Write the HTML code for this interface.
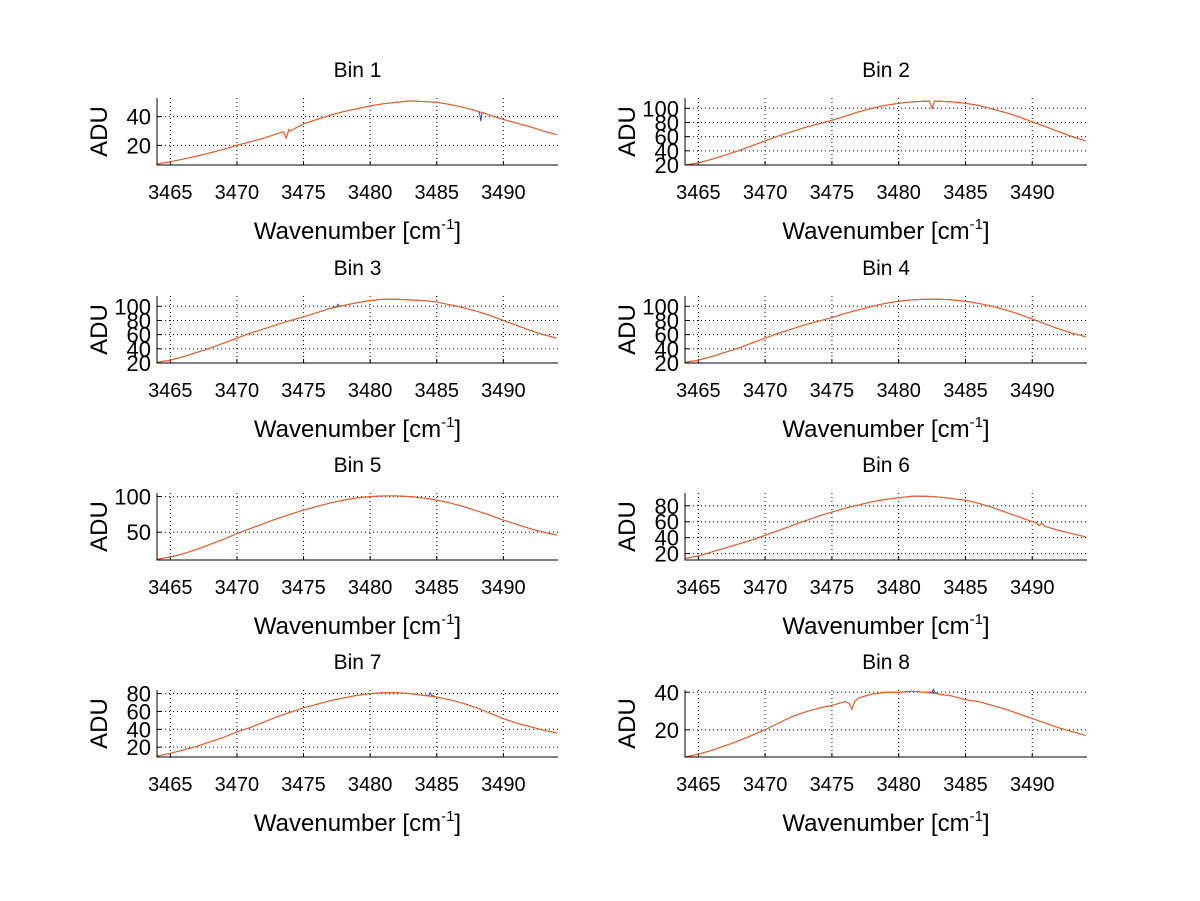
<!DOCTYPE html>
<html><head><meta charset="utf-8"><style>
html,body{margin:0;padding:0;background:#fff;}
svg{display:block;font-family:"Liberation Sans",sans-serif;}
</style></head><body>
<svg id="fig" width="1200" height="901" viewBox="0 0 1200 901"></svg>
<script>
const wavenumbers=[3464,3465,3466,3467,3468,3469,3470,3471,3472,3473,3474,3475,3476,3477,3478,3479,3480,3481,3482,3483,3484,3485,3486,3487,3488,3489,3490,3491,3492,3493,3494];
const xTicks=[3465,3470,3475,3480,3485,3490];
const bin1=[7,8.5,10.5,12.5,14.8,17.2,20,22.5,25,28,30,35,38,41,43.5,45.5,47.5,49,50,51,50.5,50,48.5,46.5,44,41,38,35.5,33,30,27.5];
const bin2=[20,23,28,34,40,47,54,61,67,73,78,83,89,95,100,104,107,109,110,110,109,107,104,99,94,88,81,74,67,60,54];
const bin3=[21,24,29,35,41,48,55,62,68,74,80,85,91,97,101,105,108,110,110,109,108,106,102,98,93,87,80,73,66,60,55];
const bin4=[21,24,29,35,41,48,55,62,68,74,79,84,90,95,100,104,107,109,110,110,109,107,104,100,95,89,82,75,68,62,57];
const bin5=[12,15,20,26,33,40,48,55,62,69,75,81,86,91,95,98,100,101,101,100,98,95,91,86,80,74,67,61,55,50,46];
const bin6=[14,17,22,27,32,37,43,49,55,61,67,72,77,81,85,88,90,92,92,91,89,87,83,78,72,66,60,54,49,45,41];
const bin7=[10,13,17,21,26,31,37,42,48,54,59,64,68,72,75,78,80,81,81,80,78,76,73,69,64,58,52,47,43,39,36];
const bin8=[5.5,7,9,11.5,14,17,20,23.5,27,29.5,31.5,33,35,37,39,40,40,40.5,40,39,38,36,35,33,31,28.5,26,23.5,21,19,17];
const seriesAll=[bin1,bin2,bin3,bin4,bin5,bin6,bin7,bin8];
const dipX=[[3473.5,3473.7,3473.9],[3482.3,3482.5,3482.7],[],[],[],[3490.3,3490.5,3490.7],[],[3476.3,3476.5,3476.7]];
const dipY=[[29.5,25,31],[110,100,110],[],[],[],[59,55,58],[],[34,31,35]];
const blueSpikeX=[[3488.2,3488.3,3488.4],[],[3477.5,3477.6,3477.7],[],[],[],[3484.4,3484.5,3484.6],[3482.5,3482.6,3482.7]];
const blueSpikeY=[[43,37,43],[],[100,103,100],[],[],[],[78,81,78],[40,41.5,40]];
const yDomains=[[6.3,53],[20,114.5],[20,114.5],[20,114.5],[11,105],[12,96],[9,84],[5.5,41.2]];
const yTicks=[[20,40],[20,40,60,80,100],[20,40,60,80,100],[20,40,60,80,100],[50,100],[20,40,60,80],[20,40,60,80],[20,40]];
const titles=["Bin 1","Bin 2","Bin 3","Bin 4","Bin 5","Bin 6","Bin 7","Bin 8"];

const NS="http://www.w3.org/2000/svg";
const svg=document.getElementById('fig');
function mk(tag,attrs,parent){const e=document.createElementNS(NS,tag);for(const k in attrs)e.setAttribute(k,attrs[k]);(parent||svg).appendChild(e);return e;}
const colL=[157,558],colR=[685,1087];
const rowTop=[98,296,493,690];
const H=67;
const xMin=3464,xMax=3494.1;

for(let b=0;b<8;b++){
  const col=b%2===0?colL:colR;
  const top=rowTop[Math.floor(b/2)],bot=top+H;
  const [y0,y1]=yDomains[b];
  const X=v=>col[0]+(v-xMin)/(xMax-xMin)*(col[1]-col[0]);
  const Y=v=>bot-(v-y0)/(y1-y0)*H;
  const g=mk('g',{});
  
  
  xTicks.forEach(t=>{
    const l=mk('line',{x1:X(t),x2:X(t),y1:top,y2:bot,stroke:'#000','stroke-width':1,'stroke-dasharray':'1,3'},g);
    
    
    mk('line',{x1:X(t),x2:X(t),y1:bot,y2:bot-4,stroke:'#000'},g);
    const tx=mk('text',{x:X(t),y:bot+34,'text-anchor':'middle','font-size':20},g);
    
    
    tx.textContent=t;
  });
  yTicks[b].forEach(t=>{
    const l=mk('line',{x1:col[0],x2:col[1],y1:Y(t),y2:Y(t),stroke:'#000','stroke-width':1,'stroke-dasharray':'1,3'},g);
    
    
    mk('line',{x1:col[0],x2:col[0]+4,y1:Y(t),y2:Y(t),stroke:'#000'},g);
    const tx=mk('text',{x:col[0]-6,y:Y(t)+8,'text-anchor':'end','font-size':22},g);
    
    
    tx.textContent=t;
  });
  function build(extraX,extraY){
    const pts=wavenumbers.map((w,i)=>[w,seriesAll[b][i]]);
    extraX.forEach((x,i)=>pts.push([x,extraY[i]]));
    pts.sort((a,c)=>a[0]-c[0]);
    return pts.map(p=>X(Math.min(p[0],xMax)).toFixed(1)+','+Y(p[1]).toFixed(1)).join(' ');
  }
  const blue=mk('polyline',{points:build(blueSpikeX[b].concat(dipX[b]),blueSpikeY[b].concat(dipY[b])),fill:'none',stroke:'#2a3fd0','stroke-width':1},g);
  
  
  const org=mk('polyline',{points:build(dipX[b],dipY[b]),fill:'none',stroke:'#f0601a','stroke-width':1.1},g);
  
  
  const ax=mk('path',{d:`M${col[0]},${top} V${bot} H${col[1]}`,fill:'none',stroke:'#000','stroke-width':1},g);
  
  
  const cx=(col[0]+col[1])/2;
  const ti=mk('text',{x:cx,y:top-21,'text-anchor':'middle','font-size':21},g);
  
  
  ti.textContent=titles[b];
  const xl=mk('text',{x:cx,y:bot+74,'text-anchor':'middle','font-size':24},g);
  
  
  xl.innerHTML='Wavenumber [cm<tspan dy="-10" font-size="15">-1</tspan><tspan dy="10">]</tspan>';
  const yx=col[0]-50,yy=(top+bot)/2;
  const yl=mk('text',{x:yx,y:yy,'text-anchor':'middle','font-size':24,transform:`rotate(-90 ${yx} ${yy})`},g);
  
  
  yl.textContent='ADU';
}
</script>
</body></html>
